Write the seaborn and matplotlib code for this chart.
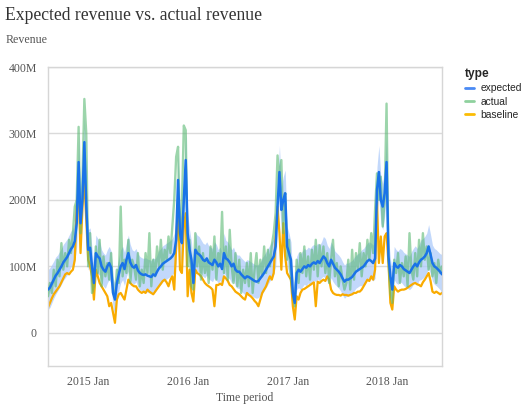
import numpy as np
import pandas as pd
import matplotlib
matplotlib.use("Agg")
import matplotlib.pyplot as plt
from matplotlib.lines import Line2D
from matplotlib.ticker import FuncFormatter
import seaborn as sns

# weekly revenue, millions (first week 2014-08-07)
start_week = "2014-08-07"

expected = [
    # Aug 2014 - Jul 2015
    65, 68, 74, 80, 86, 90, 95, 100, 106, 110,
    114, 120, 126, 130, 138, 165, 257, 165, 200, 287,
    190, 125, 128, 100, 75, 120, 115, 112, 100, 95,
    92, 100, 105, 98, 60, 50, 75, 88, 100, 105,
    96, 110, 120, 106, 100, 98, 102, 94, 90, 88,
    87, 88,
    # Aug 2015 - Jul 2016
    86, 85, 84, 88, 86, 92, 97, 100, 104, 106,
    108, 110, 112, 115, 120, 140, 230, 150, 135, 200,
    260, 150, 125, 110, 75, 125, 120, 118, 115, 110,
    108, 112, 106, 104, 102, 110, 106, 100, 104, 96,
    120, 112, 110, 106, 100, 104, 95, 92, 92, 88,
    85, 82,
    # Aug 2016 - Jul 2017
    85, 84, 82, 80, 78, 77, 78, 82, 86, 90,
    95, 100, 105, 110, 115, 130, 190, 242, 185, 200,
    210, 130, 120, 110, 60, 45, 90, 95, 92, 96,
    100, 98, 102, 100, 104, 106, 104, 108, 105, 110,
    115, 112, 105, 100, 110, 104, 98, 95, 92, 88,
    82, 77,
    # Aug 2017 - Jul 2018
    80, 80, 82, 84, 88, 92, 94, 96, 98, 100,
    104, 108, 110, 108, 105, 112, 215, 242, 200, 190,
    210, 257, 115, 85, 65, 105, 100, 98, 102, 100,
    96, 94, 92, 90, 95, 100, 104, 100, 106, 110,
    112, 115, 120, 130, 118, 105, 100, 98, 95, 92,
    88,
]

actual = [
    55, 75, 60, 95, 70, 110, 85, 135, 95, 120,
    100, 140, 120, 150, 190, 200, 310, 150, 230, 352,
    300, 100, 150, 60, 70, 130, 90, 140, 70, 115,
    85, 105, 80, 120, 60, 55, 95, 75, 190, 85,
    110, 90, 140, 75, 110, 100, 80, 120, 70, 95,
    75, 120,
    90, 150, 70, 110, 85, 130, 100, 140, 95, 125,
    110, 145, 120, 160, 200, 265, 280, 140, 190, 312,
    305, 100, 140, 70, 65, 150, 100, 130, 80, 120,
    90, 110, 75, 130, 95, 145, 80, 120, 100, 182,
    90, 130, 80, 155, 100, 75, 120, 70, 110, 60,
    95, 75,
    105, 70, 120, 60, 95, 120, 75, 110, 85, 130,
    90, 125, 100, 132, 150, 180, 267, 230, 260, 150,
    210, 110, 140, 80, 60, 40, 110, 75, 120, 90,
    130, 85, 115, 80, 125, 95, 140, 85, 132, 100,
    130, 90, 120, 75, 110, 140, 85, 105, 70, 100,
    80, 65,
    75, 110, 65, 125, 80, 120, 95, 135, 85, 120,
    100, 140, 110, 150, 120, 185, 240, 200, 235, 160,
    200, 345, 110, 60, 45, 110, 90, 120, 75, 105,
    85, 115, 70, 150, 95, 80, 120, 85, 140, 100,
    150, 110, 130, 95, 120, 85, 105, 75, 110, 90,
    100,
]

baseline = [
    38, 45, 52, 58, 62, 66, 70, 76, 82, 88,
    90, 88, 92, 95, 110, 190, 215, 120, 190, 230,
    170, 110, 100, 85, 50, 95, 85, 75, 70, 65,
    60, 55, 40, 45, 30, 15, 50, 58, 60, 55,
    50, 65, 80, 75, 72, 70, 70, 65, 62, 60,
    62, 60,
    65, 62, 60, 58, 62, 66, 70, 74, 78, 80,
    76, 70, 80, 85, 65, 130, 190, 95, 90, 160,
    180, 55, 95, 60, 47, 95, 90, 88, 85, 80,
    75, 72, 70, 68, 65, 40, 72, 72, 74, 72,
    85, 82, 78, 72, 70, 66, 62, 60, 58, 55,
    52, 50,
    60, 57, 55, 52, 48, 45, 40, 50, 60, 65,
    70, 78, 85, 80, 90, 145, 190, 150, 95, 165,
    115, 90, 85, 80, 40, 20, 55, 50, 60, 65,
    66, 68, 70, 72, 74, 76, 40, 77, 75, 78,
    80, 78, 85, 80, 65, 60, 58, 57, 57, 56,
    58, 57,
    57, 56, 57, 58, 60, 60, 62, 62, 65, 70,
    75, 80, 78, 85, 80, 95, 200, 105, 145, 105,
    145, 150, 105, 45, 35, 70, 65, 62, 64, 65,
    65, 66, 68, 70, 72, 74, 75, 73, 72, 70,
    76, 80, 85, 90, 78, 62, 60, 62, 60, 58,
    60,
]

# half width of the shaded interval around expected
spread = [
    30, 30, 29, 28, 28, 27, 27, 27, 27, 27,
    27, 27, 27, 27, 30, 35, 40, 35, 35, 40,
    35, 30, 30, 27, 25, 27, 27, 25, 25, 25,
    25, 25, 25, 25, 23, 23, 23, 25, 25, 25,
    25, 25, 27, 27, 25, 25, 25, 25, 25, 25,
    25, 25,
    25, 25, 25, 25, 25, 25, 27, 27, 27, 27,
    27, 27, 27, 27, 30, 35, 40, 35, 35, 40,
    40, 30, 30, 27, 25, 27, 27, 27, 25, 25,
    25, 25, 25, 25, 25, 27, 27, 25, 25, 25,
    30, 27, 27, 25, 25, 25, 25, 25, 25, 25,
    25, 25,
    25, 25, 25, 25, 25, 25, 25, 25, 27, 27,
    27, 27, 27, 27, 27, 30, 35, 40, 35, 35,
    35, 30, 30, 27, 25, 25, 25, 27, 27, 27,
    27, 27, 27, 27, 27, 27, 27, 27, 27, 27,
    30, 30, 27, 27, 27, 27, 25, 25, 25, 25,
    25, 25,
    25, 25, 25, 25, 25, 25, 25, 25, 27, 27,
    27, 27, 27, 27, 27, 30, 35, 40, 35, 35,
    35, 40, 30, 27, 25, 25, 25, 25, 25, 25,
    25, 25, 25, 25, 27, 27, 27, 27, 27, 30,
    30, 30, 30, 33, 30, 27, 27, 27, 27, 27,
    30,
]

series_names = ["expected", "actual", "baseline"]
line_colors = {"expected": "#1a73e8", "actual": "#5bb974", "baseline": "#f9ab00"}
legend_colors = {"expected": "#4a8af4", "actual": "#8fd19e", "baseline": "#fbbc04"}

dates = pd.date_range(start_week, periods=len(expected), freq="7D")
M = 1e6
df = pd.concat([
    pd.DataFrame({"date": dates, "revenue": np.array(vals) * M, "type": name})
    for name, vals in zip(series_names, [expected, actual, baseline])
])
lo = (np.array(expected) - np.array(spread)) * M
hi = (np.array(expected) + np.array(spread)) * M

sns.set_style("white")
plt.rcParams["font.family"] = ["Liberation Serif", "DejaVu Serif"]

fig = plt.figure(figsize=(5.3, 4.04), dpi=100)
ax = fig.add_axes([0.0906, 0.094, 0.7434, 0.740])

ax.fill_between(dates, lo, hi, color="#aecbfa", alpha=0.75, linewidth=0, zorder=1)
sns.lineplot(data=df[df["type"] == "baseline"], x="date", y="revenue",
             color=line_colors["baseline"], linewidth=1.6, ax=ax, zorder=2)
sns.lineplot(data=df[df["type"] == "actual"], x="date", y="revenue",
             color=line_colors["actual"], linewidth=1.7, alpha=0.6, ax=ax, zorder=3)
sns.lineplot(data=df[df["type"] == "expected"], x="date", y="revenue",
             color=line_colors["expected"], linewidth=1.8, ax=ax, zorder=4)

ax.set_xlim(dates[0], dates[-1])
ax.set_ylim(-50 * M, 400 * M)
ax.set_yticks([0, 100 * M, 200 * M, 300 * M, 400 * M])
ax.yaxis.set_major_formatter(FuncFormatter(lambda v, p: "0" if v == 0 else f"{v / M:.0f}M"))
xt = pd.to_datetime(["2015-01-01", "2016-01-01", "2017-01-01", "2018-01-01"])
ax.set_xticks(xt)
ax.set_xticklabels([d.strftime("%Y %b") for d in xt])

ax.grid(axis="y", color="#dadada", linewidth=1)
ax.grid(axis="x", visible=False)
ax.set_axisbelow(True)
for s in ax.spines.values():
    s.set_color("#d6d6d6")
    s.set_linewidth(1)
ax.tick_params(axis="x", length=4, width=1, color="#d6d6d6", labelsize=8.5,
               labelcolor="#555555", pad=3)
ax.tick_params(axis="y", length=0, labelsize=8.5, labelcolor="#555555", pad=8)

ax.set_xlabel("Time period", fontsize=8.5, color="#555555", labelpad=3)
ax.set_ylabel("")
fig.text(0.010, 0.962, "Expected revenue vs. actual revenue", fontsize=12.7,
         color="#333333", va="center", ha="left")
fig.text(0.011, 0.9, "Revenue", fontsize=8.6, color="#555555", va="center", ha="left")

handles = [Line2D([0], [0], color=legend_colors[n], linewidth=2) for n in series_names]
leg = fig.legend(handles, series_names, loc="upper left", bbox_to_anchor=(0.868, 0.845),
                 frameon=False, handlelength=0.9, handletextpad=0.6, labelspacing=0.33,
                 prop={"family": ["Liberation Sans", "DejaVu Sans"], "size": 7.4},
                 title="type", borderpad=0, alignment="left")
leg.get_title().set_fontfamily(["Liberation Sans", "DejaVu Sans"])
leg.get_title().set_fontweight("bold")
leg.get_title().set_fontsize(8.6)

fig.savefig("out.png", dpi=100)
